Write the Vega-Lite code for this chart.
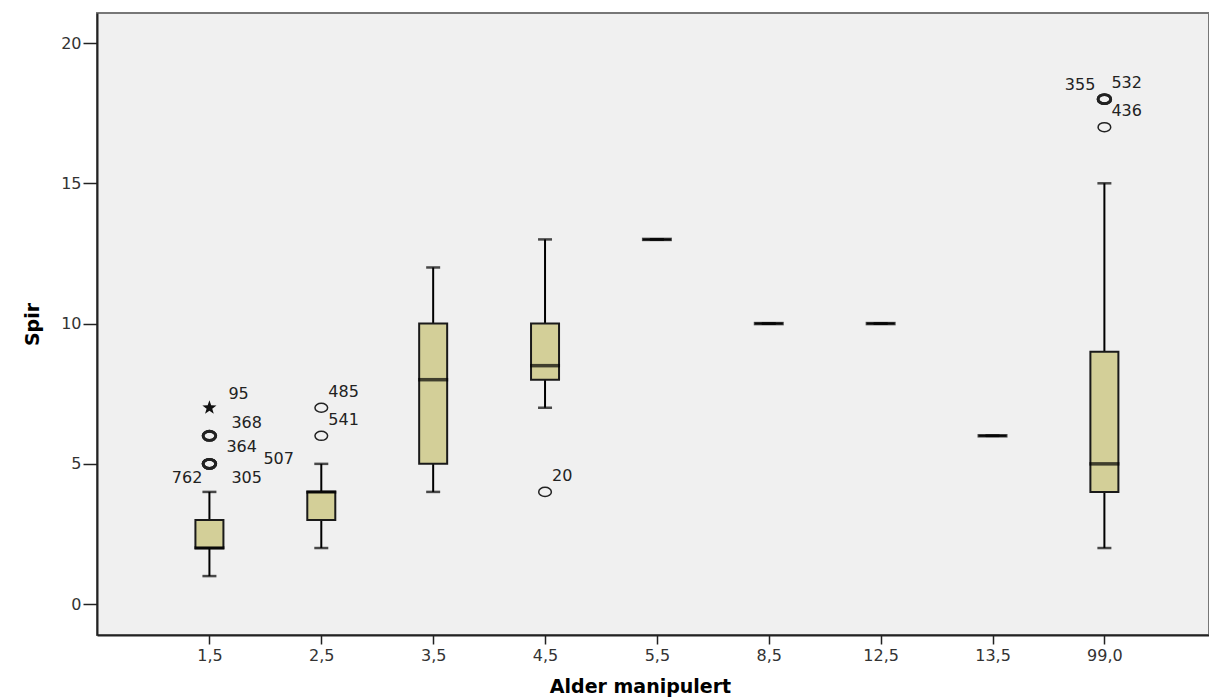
{
  "$schema": "https://vega.github.io/schema/vega-lite/v6.json",
  "width": 1112,
  "height": 622,
  "autosize": "none",
  "padding": {"left": 97, "top": 13, "right": 0, "bottom": 65},
  "background": "white",
  "config": {
    "font": "DejaVu Sans",
    "view": {"fill": "#F0F0F0", "stroke": "#777", "strokeWidth": 2},
    "axis": {
      "grid": false,
      "domainColor": "#222",
      "domainWidth": 2,
      "tickColor": "#222",
      "tickWidth": 1.5,
      "labelColor": "#333",
      "labelFont": "DejaVu Sans",
      "labelFontSize": 16,
      "titleFont": "DejaVu Sans",
      "titleFontSize": 19,
      "titleFontWeight": "bold",
      "titleColor": "#000"
    }
  },
  "datasets": {
    "boxes": [
      {"cat": "1,5", "min": 1, "q1": 2, "median": 2, "q3": 3, "max": 4},
      {"cat": "2,5", "min": 2, "q1": 3, "median": 4, "q3": 4, "max": 5},
      {"cat": "3,5", "min": 4, "q1": 5, "median": 8, "q3": 10, "max": 12},
      {"cat": "4,5", "min": 7, "q1": 8, "median": 8.5, "q3": 10, "max": 13},
      {"cat": "5,5", "min": 13, "q1": 13, "median": 13, "q3": 13, "max": 13},
      {"cat": "8,5", "min": 10, "q1": 10, "median": 10, "q3": 10, "max": 10},
      {"cat": "12,5", "min": 10, "q1": 10, "median": 10, "q3": 10, "max": 10},
      {"cat": "13,5", "min": 6, "q1": 6, "median": 6, "q3": 6, "max": 6},
      {"cat": "99,0", "min": 2, "q1": 4, "median": 5, "q3": 9, "max": 15}
    ],
    "outliers": [
      {"cat": "1,5", "value": 7, "case": "95", "kind": "extreme"},
      {"cat": "1,5", "value": 6, "case": "368", "kind": "outlier"},
      {"cat": "1,5", "value": 6, "case": "364", "kind": "outlier"},
      {"cat": "1,5", "value": 5, "case": "507", "kind": "outlier"},
      {"cat": "1,5", "value": 5, "case": "762", "kind": "outlier"},
      {"cat": "1,5", "value": 5, "case": "305", "kind": "outlier"},
      {"cat": "2,5", "value": 7, "case": "485", "kind": "outlier"},
      {"cat": "2,5", "value": 6, "case": "541", "kind": "outlier"},
      {"cat": "4,5", "value": 4, "case": "20", "kind": "outlier"},
      {"cat": "99,0", "value": 18, "case": "355", "kind": "outlier"},
      {"cat": "99,0", "value": 18, "case": "532", "kind": "outlier"},
      {"cat": "99,0", "value": 17, "case": "436", "kind": "outlier"}
    ]
  },
  "encoding": {
    "x": {
      "field": "cat",
      "type": "ordinal",
      "scale": {
        "type": "point",
        "domain": ["1,5", "2,5", "3,5", "4,5", "5,5", "8,5", "12,5", "13,5", "99,0"],
        "padding": 0.97,
        "align": 0.518
      },
      "axis": {
        "orient": "bottom",
        "title": "Alder manipulert",
        "labelAngle": 0,
        "tickSize": 9,
        "labelPadding": 3,
        "titleX": 543,
        "titlePadding": 14
      }
    }
  },
  "layer": [
    {
      "data": {"name": "boxes"},
      "mark": {"type": "rule", "color": "#000", "strokeWidth": 2},
      "encoding": {
        "y": {
          "field": "min",
          "type": "quantitative",
          "title": "Spir",
          "scale": {"domain": [-1.1, 21.07], "nice": false, "zero": false},
          "axis": {"orient": "left", "values": [0, 5, 10, 15, 20], "tickSize": 14, "labelPadding": 2, "titlePadding": 18}
        },
        "y2": {"field": "max"}
      }
    },
    {
      "data": {"name": "boxes"},
      "mark": {"type": "tick", "color": "#000", "size": 14, "thickness": 2.5},
      "encoding": {"y": {"field": "min", "type": "quantitative", "title": "Spir"}}
    },
    {
      "data": {"name": "boxes"},
      "mark": {"type": "tick", "color": "#000", "size": 14, "thickness": 2.5},
      "encoding": {"y": {"field": "max", "type": "quantitative", "title": "Spir"}}
    },
    {
      "data": {"name": "boxes"},
      "mark": {"type": "bar", "size": 28, "fill": "#D3CF98", "stroke": "#1a1a1a", "strokeWidth": 2},
      "encoding": {
        "y": {"field": "q1", "type": "quantitative", "title": "Spir"},
        "y2": {"field": "q3"}
      }
    },
    {
      "data": {"name": "boxes"},
      "mark": {"type": "tick", "color": "#000", "size": 30, "thickness": 3.5},
      "encoding": {"y": {"field": "median", "type": "quantitative", "title": "Spir"}}
    },
    {
      "data": {"name": "outliers"},
      "transform": [
        {"filter": "datum.kind === 'outlier'"},
        {"joinaggregate": [{"op": "count", "as": "n"}], "groupby": ["cat", "value"]}
      ],
      "mark": {
        "type": "point",
        "shape": "M-1,0C-1,-0.4,-0.55,-0.72,0,-0.72C0.55,-0.72,1,-0.4,1,0C1,0.4,0.55,0.72,0,0.72C-0.55,0.72,-1,0.4,-1,0Z",
        "size": 160,
        "filled": false,
        "stroke": "#222",
        "opacity": 1
      },
      "encoding": {
        "y": {"field": "value", "type": "quantitative", "title": "Spir"},
        "strokeWidth": {"condition": {"test": "datum.n > 1", "value": 2.8}, "value": 1.5}
      }
    },
    {
      "data": {"name": "outliers"},
      "transform": [{"filter": "datum.kind === 'extreme'"}],
      "mark": {
        "type": "point",
        "shape": "M0,-1L0.235,-0.324L0.951,-0.309L0.38,0.124L0.588,0.809L0,0.4L-0.588,0.809L-0.38,0.124L-0.951,-0.309L-0.235,-0.324Z",
        "size": 220,
        "filled": true,
        "color": "#111",
        "opacity": 1
      },
      "encoding": {"y": {"field": "value", "type": "quantitative", "title": "Spir"}}
    },
    {
      "data": {"name": "outliers"},
      "transform": [{"filter": {"field": "case", "oneOf": ["485", "541", "20", "436", "532"]}}],
      "mark": {"type": "text", "align": "left", "baseline": "middle", "dx": 7, "dy": -16, "fontSize": 16, "color": "#222"},
      "encoding": {"y": {"field": "value", "type": "quantitative", "title": "Spir"}, "text": {"field": "case"}}
    },
    {
      "data": {"name": "outliers"},
      "transform": [{"filter": {"field": "case", "oneOf": ["355"]}}],
      "mark": {"type": "text", "align": "right", "baseline": "middle", "dx": -9, "dy": -14, "fontSize": 16, "color": "#222"},
      "encoding": {"y": {"field": "value", "type": "quantitative", "title": "Spir"}, "text": {"field": "case"}}
    },
    {
      "data": {"name": "outliers"},
      "transform": [{"filter": {"field": "case", "oneOf": ["95"]}}],
      "mark": {"type": "text", "align": "left", "baseline": "middle", "dx": 19, "dy": -14, "fontSize": 16, "color": "#222"},
      "encoding": {"y": {"field": "value", "type": "quantitative", "title": "Spir"}, "text": {"field": "case"}}
    },
    {
      "data": {"name": "outliers"},
      "transform": [{"filter": {"field": "case", "oneOf": ["368"]}}],
      "mark": {"type": "text", "align": "left", "baseline": "middle", "dx": 22, "dy": -13, "fontSize": 16, "color": "#222"},
      "encoding": {"y": {"field": "value", "type": "quantitative", "title": "Spir"}, "text": {"field": "case"}}
    },
    {
      "data": {"name": "outliers"},
      "transform": [{"filter": {"field": "case", "oneOf": ["364"]}}],
      "mark": {"type": "text", "align": "left", "baseline": "middle", "dx": 17, "dy": 11, "fontSize": 16, "color": "#222"},
      "encoding": {"y": {"field": "value", "type": "quantitative", "title": "Spir"}, "text": {"field": "case"}}
    },
    {
      "data": {"name": "outliers"},
      "transform": [{"filter": {"field": "case", "oneOf": ["507"]}}],
      "mark": {"type": "text", "align": "left", "baseline": "middle", "dx": 54, "dy": -5, "fontSize": 16, "color": "#222"},
      "encoding": {"y": {"field": "value", "type": "quantitative", "title": "Spir"}, "text": {"field": "case"}}
    },
    {
      "data": {"name": "outliers"},
      "transform": [{"filter": {"field": "case", "oneOf": ["762"]}}],
      "mark": {"type": "text", "align": "right", "baseline": "middle", "dx": -7, "dy": 14, "fontSize": 16, "color": "#222"},
      "encoding": {"y": {"field": "value", "type": "quantitative", "title": "Spir"}, "text": {"field": "case"}}
    },
    {
      "data": {"name": "outliers"},
      "transform": [{"filter": {"field": "case", "oneOf": ["305"]}}],
      "mark": {"type": "text", "align": "left", "baseline": "middle", "dx": 22, "dy": 14, "fontSize": 16, "color": "#222"},
      "encoding": {"y": {"field": "value", "type": "quantitative", "title": "Spir"}, "text": {"field": "case"}}
    }
  ]
}
